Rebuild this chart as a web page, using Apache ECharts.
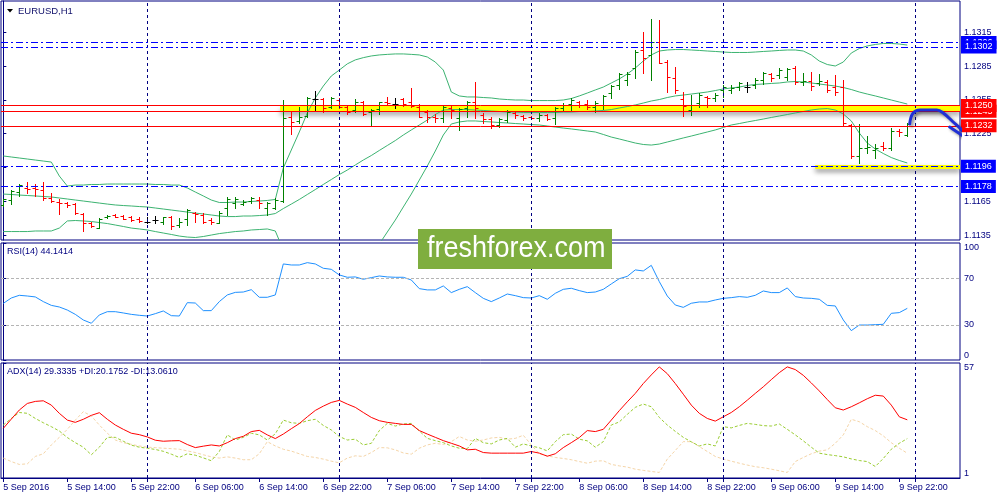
<!DOCTYPE html>
<html><head><meta charset="utf-8">
<script src="https://cdn.jsdelivr.net/npm/echarts@6/dist/echarts.min.js"></script>
<style>html,body{margin:0;padding:0;background:#fff}#c{width:1000px;height:500px}</style>
</head><body><div id="c"></div><script>
// ---------- DATA ----------
var barOpen = [1.11617,1.11661,1.11735,1.11770,1.11768,1.11750,1.11681,1.11646,1.11632,1.11623,
1.11534,1.11459,1.11415,1.11508,1.11530,1.11522,1.11508,1.11490,1.11468,1.11483,
1.11468,1.11508,1.11436,1.11492,1.11543,1.11528,1.11483,1.11459,1.11587,1.11632,
1.11626,1.11655,1.11661,1.11587,1.11587,1.11648,1.12398,1.12365,1.12410,1.12555,
1.12558,1.12484,1.12549,1.12490,1.12460,1.12534,1.12440,1.12469,1.12534,1.12511,
1.12558,1.12534,1.12490,1.12440,1.12401,1.12386,1.12481,1.12386,1.12475,1.12529,
1.12416,1.12380,1.12327,1.12371,1.12431,1.12407,1.12395,1.12386,1.12413,1.12386,
1.12475,1.12514,1.12534,1.12514,1.12490,1.12505,1.12609,1.12682,1.12727,1.12831,
1.12993,1.12949,1.13067,1.12889,1.12744,1.12558,1.12460,1.12520,1.12573,1.12564,
1.12638,1.12638,1.12662,1.12667,1.12682,1.12727,1.12780,1.12771,1.12756,1.12831,
1.12709,1.12718,1.12703,1.12712,1.12662,1.12667,1.12327,1.12054,1.12120,1.12105,
1.12141,1.12120,1.12276,1.12238];
var barHigh = [1.11670,1.11750,1.11800,1.11818,1.11800,1.11818,1.11720,1.11667,1.11646,1.11632,
1.11543,1.11468,1.11499,1.11525,1.11537,1.11528,1.11519,1.11513,1.11508,1.11519,
1.11513,1.11519,1.11504,1.11578,1.11552,1.11543,1.11499,1.11566,1.11690,1.11690,
1.11661,1.11685,1.11690,1.11646,1.11676,1.12549,1.12445,1.12490,1.12573,1.12629,
1.12564,1.12573,1.12564,1.12505,1.12555,1.12540,1.12469,1.12534,1.12573,1.12564,
1.12569,1.12658,1.12511,1.12460,1.12422,1.12505,1.12505,1.12475,1.12540,1.12712,
1.12434,1.12394,1.12386,1.12460,1.12445,1.12416,1.12407,1.12431,1.12422,1.12490,
1.12520,1.12569,1.12543,1.12549,1.12543,1.12593,1.12682,1.12791,1.12800,1.12993,
1.13156,1.13266,1.13260,1.12904,1.12845,1.12623,1.12593,1.12609,1.12585,1.12609,
1.12682,1.12682,1.12712,1.12712,1.12742,1.12800,1.12791,1.12831,1.12831,1.12851,
1.12786,1.12800,1.12780,1.12727,1.12771,1.12727,1.12336,1.12336,1.12229,1.12158,
1.12179,1.12298,1.12289,1.12342];
var barLow = [1.11610,1.11623,1.11697,1.11720,1.11700,1.11661,1.11641,1.11534,1.11602,1.11537,
1.11386,1.11424,1.11410,1.11499,1.11508,1.11490,1.11477,1.11468,1.11459,1.11459,
1.11448,1.11401,1.11424,1.11439,1.11463,1.11454,1.11445,1.11454,1.11528,1.11587,
1.11617,1.11632,1.11587,1.11528,1.11578,1.11643,1.12247,1.12342,1.12401,1.12460,
1.12445,1.12475,1.12475,1.12422,1.12440,1.12416,1.12321,1.12425,1.12505,1.12475,
1.12498,1.12490,1.12395,1.12356,1.12356,1.12356,1.12386,1.12283,1.12401,1.12386,
1.12345,1.12300,1.12312,1.12356,1.12386,1.12371,1.12378,1.12365,1.12371,1.12333,
1.12460,1.12460,1.12484,1.12469,1.12445,1.12469,1.12564,1.12647,1.12682,1.12742,
1.12791,1.12727,1.12875,1.12623,1.12611,1.12407,1.12416,1.12490,1.12484,1.12543,
1.12578,1.12609,1.12638,1.12623,1.12653,1.12691,1.12720,1.12742,1.12727,1.12691,
1.12682,1.12638,1.12682,1.12623,1.12593,1.12327,1.12031,1.11987,1.12076,1.12031,
1.12105,1.12105,1.12229,1.12229];
var barClose = [1.11667,1.11744,1.11794,1.11756,1.11756,1.11676,1.11655,1.11632,1.11617,1.11543,
1.11454,1.11430,1.11492,1.11522,1.11513,1.11495,1.11483,1.11475,1.11468,1.11483,
1.11508,1.11430,1.11468,1.11572,1.11537,1.11468,1.11463,1.11543,1.11670,1.11667,
1.11646,1.11676,1.11637,1.11632,1.11661,1.12389,1.12356,1.12401,1.12564,1.12555,
1.12475,1.12564,1.12490,1.12440,1.12534,1.12425,1.12460,1.12529,1.12520,1.12511,
1.12511,1.12498,1.12401,1.12395,1.12386,1.12484,1.12460,1.12466,1.12529,1.12475,
1.12376,1.12323,1.12380,1.12445,1.12416,1.12386,1.12386,1.12416,1.12383,1.12481,
1.12507,1.12549,1.12505,1.12490,1.12520,1.12585,1.12673,1.12780,1.12780,1.12978,
1.12919,1.13067,1.12880,1.12756,1.12638,1.12496,1.12505,1.12593,1.12564,1.12593,
1.12667,1.12658,1.12697,1.12667,1.12727,1.12786,1.12742,1.12815,1.12824,1.12712,
1.12720,1.12673,1.12720,1.12638,1.12623,1.12345,1.12054,1.12120,1.12134,1.12120,
1.12125,1.12276,1.12263,1.12336];
var bbUpper = [1.12052,1.12043,1.12034,1.12025,1.12016,1.12007,1.11998,1.11874,1.11785,1.11794,
1.11794,1.11799,1.11799,1.11803,1.11803,1.11803,1.11803,1.11803,1.11803,1.11799,
1.11799,1.11794,1.11794,1.11768,1.11732,1.11697,1.11661,1.11639,1.11639,1.11643,
1.11643,1.11648,1.11652,1.11657,1.11666,1.11945,1.12105,1.12265,1.12434,1.12567,
1.12673,1.12762,1.12815,1.12870,1.12905,1.12925,1.12940,1.12949,1.12954,1.12958,
1.12958,1.12954,1.12949,1.12931,1.12886,1.12815,1.12620,1.12585,1.12576,1.12576,
1.12571,1.12567,1.12558,1.12553,1.12549,1.12549,1.12544,1.12544,1.12544,1.12544,
1.12549,1.12562,1.12585,1.12611,1.12638,1.12664,1.12700,1.12736,1.12780,1.12833,
1.12895,1.12949,1.12984,1.12993,1.12997,1.12997,1.12993,1.12989,1.12984,1.12980,
1.12975,1.12971,1.12971,1.12971,1.12975,1.12980,1.12984,1.12989,1.12993,1.12993,
1.12984,1.12949,1.12895,1.12864,1.12851,1.12886,1.12966,1.13006,1.13029,1.13042,
1.13051,1.13051,1.13046,1.13037];
var bbMiddle = [1.11714,1.11710,1.11705,1.11701,1.11697,1.11692,1.11688,1.11679,1.11670,1.11661,
1.11652,1.11643,1.11634,1.11625,1.11617,1.11612,1.11608,1.11603,1.11599,1.11590,
1.11581,1.11572,1.11563,1.11554,1.11545,1.11537,1.11528,1.11519,1.11514,1.11514,
1.11519,1.11519,1.11523,1.11528,1.11541,1.11585,1.11625,1.11666,1.11710,1.11754,
1.11799,1.11843,1.11887,1.11927,1.11972,1.12016,1.12056,1.12101,1.12145,1.12189,
1.12238,1.12283,1.12327,1.12371,1.12420,1.12460,1.12464,1.12464,1.12464,1.12460,
1.12456,1.12451,1.12447,1.12442,1.12442,1.12438,1.12438,1.12438,1.12438,1.12438,
1.12442,1.12442,1.12447,1.12447,1.12451,1.12456,1.12464,1.12478,1.12491,1.12505,
1.12522,1.12540,1.12553,1.12571,1.12585,1.12593,1.12602,1.12611,1.12620,1.12633,
1.12647,1.12656,1.12664,1.12678,1.12687,1.12691,1.12696,1.12700,1.12709,1.12713,
1.12709,1.12700,1.12691,1.12682,1.12673,1.12660,1.12642,1.12620,1.12602,1.12585,
1.12567,1.12549,1.12531,1.12513];
var bbLower = [1.11381,1.11381,1.11381,1.11381,1.11386,1.11386,1.11386,1.11412,1.11475,1.11479,
1.11475,1.11470,1.11461,1.11452,1.11439,1.11426,1.11412,1.11404,1.11395,1.11381,
1.11368,1.11355,1.11341,1.11332,1.11328,1.11337,1.11350,1.11363,1.11372,1.11381,
1.11386,1.11395,1.11399,1.11404,1.11386,1.11217,1.11110,1.11057,1.11022,1.11004,
1.10995,1.11004,1.11022,1.11057,1.11093,1.11146,1.11208,1.11270,1.11377,1.11483,
1.11599,1.11714,1.11838,1.11963,1.12096,1.12238,1.12336,1.12354,1.12363,1.12363,
1.12358,1.12354,1.12349,1.12345,1.12340,1.12336,1.12331,1.12327,1.12318,1.12309,
1.12300,1.12292,1.12283,1.12274,1.12265,1.12243,1.12220,1.12203,1.12185,1.12167,
1.12154,1.12149,1.12158,1.12176,1.12194,1.12212,1.12229,1.12247,1.12265,1.12283,
1.12305,1.12327,1.12340,1.12354,1.12367,1.12380,1.12394,1.12407,1.12420,1.12434,
1.12447,1.12460,1.12469,1.12473,1.12460,1.12425,1.12363,1.12256,1.12167,1.12114,
1.12074,1.12038,1.12012,1.11990];
var rsiValues = [48.4,53.0,55.3,54.7,53.9,49.9,46.7,45.3,42.7,39.0,
34.2,31.4,38.5,41.3,41.3,40.2,39.0,38.2,37.6,39.6,
41.9,37.9,37.6,49.0,48.7,42.2,42.2,49.9,55.6,57.8,
58.1,60.1,53.6,53.6,55.6,82.1,81.2,81.2,83.2,82.1,
78.4,77.5,72.7,70.7,71.0,69.0,70.4,71.8,71.0,70.7,
70.7,68.4,61.0,59.9,59.9,63.3,57.6,60.4,62.7,57.6,
52.7,49.9,53.0,56.4,55.0,53.3,53.0,55.0,51.9,57.0,
60.4,61.3,59.3,57.6,58.1,60.4,65.0,69.5,71.5,77.0,
76.1,80.9,67.0,54.7,47.0,45.0,48.5,49.6,49.6,51.3,
52.7,53.3,54.2,53.6,55.3,59.0,57.6,57.6,61.6,54.2,
53.0,52.7,51.9,46.7,46.2,34.2,25.1,29.9,29.9,30.2,
30.5,39.9,40.5,44.14];
var adxValues = [25.2,29.7,34.1,37.3,38.3,38.6,36.5,32.5,29.2,28.1,
29.6,31.5,32.8,29.6,26.8,24.7,22.8,22.1,21.0,19.4,
18.9,19.1,19.2,17.3,15.8,16.5,17.1,16.6,18.2,20.2,
21.3,23.6,24.2,22.0,20.2,22.4,25.0,27.5,30.8,33.9,
36.0,37.8,38.8,37.0,35.4,32.9,30.5,28.9,28.1,27.6,
27.1,27.1,24.1,22.4,20.8,19.2,17.9,16.6,14.7,15.0,
13.4,13.1,13.1,13.1,13.1,13.1,13.9,13.1,11.6,12.8,
15.8,18.2,20.7,24.1,23.6,24.7,29.2,33.8,38.1,42.2,
47.0,51.2,55.1,51.8,47.0,41.8,36.5,32.5,30.0,28.7,
30.8,32.9,35.7,38.9,42.2,45.4,48.9,52.3,55.1,53.8,
51.0,47.3,43.4,39.2,35.2,34.1,35.7,37.6,39.6,41.3,
40.9,36.5,30.8,29.33];
var plusDI = [26.8,30.0,32.9,32.5,30.0,27.9,26.0,23.9,20.7,18.2,
16.0,12.3,16.0,20.8,20.8,18.9,17.0,16.0,15.5,14.9,
14.0,12.6,11.0,12.8,12.1,10.8,9.4,13.9,22.0,19.5,
20.8,22.8,22.0,19.5,22.5,29.2,27.9,27.6,28.9,29.6,
26.6,24.4,21.2,19.5,19.9,17.1,17.9,24.1,27.6,26.3,
27.3,27.6,23.9,20.3,19.2,18.2,16.6,15.5,15.3,20.3,
18.2,17.6,19.5,20.3,16.0,17.6,16.6,15.7,14.2,18.7,
22.1,22.4,19.9,19.1,16.0,18.7,26.8,28.3,32.0,35.4,
37.0,35.7,30.5,26.8,23.7,20.8,18.6,16.6,17.6,16.6,
26.0,25.4,26.6,27.6,27.1,26.5,26.3,27.3,24.7,22.0,
19.1,16.0,13.1,12.4,11.9,11.3,10.3,9.5,9.0,6.6,
10.5,15.0,17.9,20.18];
var minusDI = [10.7,9.0,7.6,7.9,11.5,12.8,17.1,20.8,24.7,29.2,
33.3,31.2,26.8,22.8,19.5,18.2,17.4,16.6,16.0,15.8,
15.5,15.3,15.0,14.2,13.4,12.3,11.3,10.7,11.3,10.7,
9.9,9.9,12.8,18.7,16.6,15.0,14.1,12.8,11.5,11.0,
10.2,9.2,8.4,10.7,11.8,11.5,13.4,15.8,15.7,14.7,
13.2,12.6,15.5,17.1,17.9,17.3,18.7,21.2,19.5,18.9,
19.5,20.5,20.8,19.9,20.3,21.8,17.1,12.8,11.8,11.0,
10.5,9.9,9.0,8.2,9.2,9.4,7.6,6.9,6.3,5.3,
4.7,4.2,3.7,10.2,14.4,18.7,18.7,16.3,13.9,11.5,
10.2,9.2,8.2,7.3,6.5,6.0,5.3,4.5,3.7,9.0,
11.0,12.8,14.1,14.7,17.9,22.0,29.6,28.4,26.0,24.1,
21.5,18.2,15.5,13.06];
var xTickIndex = [0,8,16,24,32,40,48,56,64,72,80,88,96,104,112];
var xTickLabels = ['5 Sep 2016','5 Sep 14:00','5 Sep 22:00','6 Sep 06:00','6 Sep 14:00','6 Sep 22:00','7 Sep 06:00','7 Sep 14:00','7 Sep 22:00','8 Sep 06:00','8 Sep 14:00','8 Sep 22:00','9 Sep 06:00','9 Sep 14:00','9 Sep 22:00'];
var dayStartIndex = [18,42,66,90,114];
var priceTicks = [1.1135,1.1165,1.1195,1.1225,1.1255,1.1285,1.1315];
var rsiTicks = [0,30,70,100];
var rsiLevels = [30,70];
var adxTicks = [1,57];
var blueLevels = [1.1306,1.1302,1.1196,1.1178];
var redLevels = [1.1245,1.1250,1.1232];
var zoneTop = 1.1250, zoneBottom = 1.1245, zoneStart = 34.6;
var supportLevel = 1.1196, supportStart = 101.5;
var arrowIndex = [113.3,113.7,114.6,116.7,117.5,118.7,119.8,120.4];
var arrowPrice = [1.12336,1.12431,1.12460,1.12460,1.12434,1.12356,1.12283,1.12209];
var arrowHeadIndex = [118.3,120.4,120.6];
var arrowHeadPrice = [1.12309,1.12209,1.12327];

// ---------- CHART ----------
var NAVY = '#000080', FONT = 'Liberation Sans';
var XMIN = -0.29, XMAX = 119.59;
var UP = '#008000', DOWN = '#ff0000', DOJI = '#000000';
function pairs(arr){ return arr.map(function(v,i){ return [i,v]; }); }
function zip(xs, ys){ return xs.map(function(x,i){ return [x, ys[i]]; }); }
var ohlc = barOpen.map(function(o,i){ return [i,o,barHigh[i],barLow[i],barClose[i]]; });

function xAxisFor(gi, show){
  return {type:'value', gridIndex:gi, min:XMIN, max:XMAX, show:show,
    axisLine:{show:show, onZero:false, lineStyle:{color:NAVY, width:1}},
    axisTick:{show:show, customValues: xTickIndex.concat(dayStartIndex), length:4, lineStyle:{color:NAVY}},
    axisLabel:{show:show, customValues: xTickIndex, align:'left', color:NAVY, fontSize:9, fontFamily:FONT, margin:5,
      formatter:function(v){ var k = xTickIndex.indexOf(Math.round(v)); return k>=0 ? xTickLabels[k] : ''; }},
    splitLine:{show:false}};
}
function yAxisFor(gi, min, max, ticks, fmt){
  return {type:'value', gridIndex:gi, position:'right', min:min, max:max,
    axisLine:{show:true, lineStyle:{color:NAVY, width:1}},
    axisTick:{show:true, customValues:ticks, length:3, lineStyle:{color:NAVY}},
    axisLabel:{show:true, customValues:ticks, color:NAVY, fontSize:9, fontFamily:FONT, margin:4, formatter:fmt,
      verticalAlignMinLabel: gi>0 ? 'bottom' : null, verticalAlignMaxLabel: gi>0 ? 'top' : null},
    splitLine:{show:false}};
}
function dayLines(gi){
  return {type:'line', xAxisIndex:gi, yAxisIndex:gi, data:[], z:1, silent:true,
    markLine:{symbol:'none', silent:true, precision:4, label:{show:false},
      lineStyle:{color:NAVY, type:[3,3], width:1},
      data: dayStartIndex.map(function(d){ return {xAxis:d}; })}};
}
function levelItem(v, color, dashed){
  return {yAxis:v, lineStyle:{color:color, width:1, type: dashed ? [7,3,2,3] : 'solid'},
    label:{show:true, position:'end', distance:1, formatter: v.toFixed(4), backgroundColor:color,
      color:'#ffffff', fontSize:9, fontFamily:FONT, padding:[2,4,1,4], lineHeight:10}};
}
var levelData = [levelItem(blueLevels[0],'#0000ff',true), levelItem(blueLevels[1],'#0000ff',true),
  levelItem(redLevels[0],'#ff0000',false), levelItem(redLevels[1],'#ff0000',false), levelItem(redLevels[2],'#ff0000',false),
  levelItem(blueLevels[2],'#0000ff',true), levelItem(blueLevels[3],'#0000ff',true)];

var option = {
  animation:false,
  backgroundColor:'#ffffff',
  grid:[
    {left:1, right:40, top:1, height:239, show:true, borderColor:NAVY, borderWidth:1, outerBoundsMode:'none'},
    {left:1, right:40, top:243, height:117, show:true, borderColor:NAVY, borderWidth:1, outerBoundsMode:'none'},
    {left:1, right:40, top:363, height:115, show:true, borderColor:NAVY, borderWidth:1, outerBoundsMode:'none'}
  ],
  xAxis:[xAxisFor(0,false), xAxisFor(1,false), xAxisFor(2,true)],
  yAxis:[
    yAxisFor(0, 1.11306, 1.13428, priceTicks, function(v){ return v.toFixed(4); }),
    yAxisFor(1, 0, 100, rsiTicks, function(v){ return String(Math.round(v)); }),
    yAxisFor(2, 1, 57, adxTicks, function(v){ return String(Math.round(v)); })
  ],
  graphic:[
    {type:'polygon', shape:{points:[[7,9],[13,9],[10,12.5]]}, style:{fill:'#000000'}, z:100},
    {type:'text', x:18, y:11, style:{text:'EURUSD,H1', fill:'#10106a', font:'9.5px "Liberation Sans"', verticalAlign:'middle'}, z:100},
    {type:'text', x:7, y:252, style:{text:'RSI(14) 44.1414', fill:NAVY, font:'9px "Liberation Sans"', verticalAlign:'middle'}, z:100},
    {type:'text', x:7, y:372, style:{text:'ADX(14) 29.3335 +DI:20.1752 -DI:13.0610', fill:NAVY, font:'9px "Liberation Sans"', verticalAlign:'middle'}, z:100},
    {type:'rect', shape:{x:418, y:229, width:194, height:40}, style:{fill:'#7fae3f'}, z:100},
    {type:'text', x:427, y:249, scaleX:0.9, style:{text:'freshforex.com', fill:'#ffffff', font:'30px "Liberation Sans"', verticalAlign:'middle'}, z:101}
  ],
  series:[
    dayLines(0),
    {type:'line', xAxisIndex:0, yAxisIndex:0, data:[], z:1, silent:true,
      markArea:{silent:true, precision:5, itemStyle:{color:'#ffff00', shadowBlur:5, shadowColor:'rgba(0,0,0,0.35)', shadowOffsetY:4},
        data:[[{xAxis:zoneStart, yAxis:zoneTop},{xAxis:XMAX, yAxis:zoneBottom}]]}},
    {type:'line', xAxisIndex:0, yAxisIndex:0, data:[], z:2, silent:true,
      markLine:{symbol:'none', silent:true, precision:5, label:{show:false},
        lineStyle:{color:'#ffff00', width:4, type:'solid', shadowBlur:5, shadowColor:'rgba(0,0,0,0.45)', shadowOffsetY:3},
        data:[[{coord:[supportStart, supportLevel]},{coord:[XMAX, supportLevel]}]]}},
    {type:'line', xAxisIndex:0, yAxisIndex:0, data:pairs(bbUpper), showSymbol:false, z:3, silent:true, lineStyle:{color:'#3cb371', width:1}},
    {type:'line', xAxisIndex:0, yAxisIndex:0, data:pairs(bbMiddle), showSymbol:false, z:3, silent:true, lineStyle:{color:'#3cb371', width:1}},
    {type:'line', xAxisIndex:0, yAxisIndex:0, data:pairs(bbLower), showSymbol:false, z:3, silent:true, lineStyle:{color:'#3cb371', width:1}},
    {type:'custom', xAxisIndex:0, yAxisIndex:0, z:4, clip:true, silent:true, data:ohlc, encode:{x:0, y:[1,2,3,4]},
      renderItem:function(params, api){
        var i = api.value(0), o = api.value(1), h = api.value(2), l = api.value(3), c = api.value(4);
        var po = api.coord([i,o]), ph = api.coord([i,h]), pl = api.coord([i,l]), pc = api.coord([i,c]);
        var x = Math.round(po[0]) + 0.5;
        var col = c > o ? UP : (c < o ? DOWN : DOJI);
        var yo = Math.round(po[1]) + 0.5, yc = Math.round(pc[1]) + 0.5;
        return {type:'group', children:[
          {type:'line', shape:{x1:x, y1:Math.round(ph[1]), x2:x, y2:Math.round(pl[1])+1}, style:{stroke:col, lineWidth:1}},
          {type:'line', shape:{x1:x-3, y1:yo, x2:x, y2:yo}, style:{stroke:col, lineWidth:1}},
          {type:'line', shape:{x1:x, y1:yc, x2:x+3, y2:yc}, style:{stroke:col, lineWidth:1}}
        ]};
      }},
    {type:'line', xAxisIndex:0, yAxisIndex:0, data:[], z:5, silent:true,
      markLine:{symbol:'none', silent:true, precision:5, data:levelData}},
    {type:'line', xAxisIndex:0, yAxisIndex:0, data:zip(arrowIndex, arrowPrice), smooth:0.4, clip:false, showSymbol:false, z:20, silent:true,
      lineStyle:{color:'#1f2fd6', width:3, cap:'round', join:'round', shadowBlur:3, shadowColor:'rgba(0,0,0,0.45)', shadowOffsetX:2, shadowOffsetY:2}},
    {type:'line', xAxisIndex:0, yAxisIndex:0, data:zip(arrowHeadIndex, arrowHeadPrice), clip:false, showSymbol:false, z:20, silent:true,
      lineStyle:{color:'#1f2fd6', width:3, cap:'round', join:'round', shadowBlur:3, shadowColor:'rgba(0,0,0,0.45)', shadowOffsetX:2, shadowOffsetY:2}},
    dayLines(1),
    {type:'line', xAxisIndex:1, yAxisIndex:1, data:[], z:1, silent:true,
      markLine:{symbol:'none', silent:true, precision:2, label:{show:false}, lineStyle:{color:'#b4b4b4', type:[3,2], width:1},
        data: rsiLevels.map(function(v){ return {yAxis:v}; })}},
    {type:'line', xAxisIndex:1, yAxisIndex:1, data:pairs(rsiValues), showSymbol:false, z:3, silent:true, lineStyle:{color:'#1e90ff', width:1}},
    dayLines(2),
    {type:'line', xAxisIndex:2, yAxisIndex:2, data:pairs(minusDI), showSymbol:false, z:2, silent:true, lineStyle:{color:'#f5d5a8', width:1, type:[3,2]}},
    {type:'line', xAxisIndex:2, yAxisIndex:2, data:pairs(plusDI), showSymbol:false, z:3, silent:true, lineStyle:{color:'#9acd32', width:1, type:[3,2]}},
    {type:'line', xAxisIndex:2, yAxisIndex:2, data:pairs(adxValues), showSymbol:false, z:4, silent:true, lineStyle:{color:'#ff0000', width:1}}
  ]
};
var chart = echarts.init(document.getElementById('c'), null, {renderer:'canvas', width:1000, height:500});
chart.setOption(option);
</script></body></html>
